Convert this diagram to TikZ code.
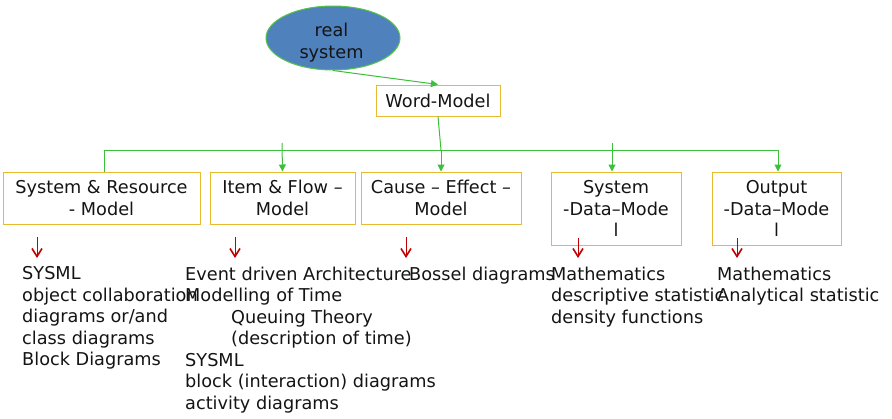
\documentclass[tikz,border=0pt]{standalone}
\usepackage{fontspec}
\setmainfont{DejaVu Sans}
\usetikzlibrary{arrows.meta,shapes.geometric}
\definecolor{goldb}{RGB}{232,186,48}
\definecolor{gline}{RGB}{60,192,60}
\definecolor{ellfill}{RGB}{79,129,189}
\definecolor{ellbord}{RGB}{84,196,72}
\definecolor{redar}{RGB}{192,0,0}
\definecolor{txt}{RGB}{20,20,20}
\tikzset{
  base font/.style={font=\fontsize{17.7}{21.5}\selectfont, text=txt},
  modelbox/.style={base font, draw=goldb, line width=1pt, align=center, inner sep=0pt},
  realell/.style={base font, ellipse, draw=ellbord, fill=ellfill, line width=1pt, align=center, inner sep=0pt, minimum width=134pt, minimum height=64pt},
  gconn/.style={draw=gline, line width=1pt},
  garrow/.style={gconn, -{Triangle[length=7pt,width=7pt]}},
  rarrow/.style={draw=redar, line width=0.8pt, -{Straight Barb[length=8pt,width=10pt,line width=1.6pt]}},
  listtext/.style={base font, anchor=north west, align=left, inner sep=0pt}
}
\begin{document}
\begin{tikzpicture}[x=1pt,y=-1pt]
\useasboundingbox (0,0) rectangle (892,418);
% nodes
\node[realell] (real) at (333,38) {\raisebox{-5pt}[\height][\depth]{\hspace*{-3pt}\begin{tabular}{@{}c@{}}real\\system\end{tabular}}};
\node[modelbox, minimum width=124pt, minimum height=31pt] (word) at (438,100.5) {Word-Model};
\node[modelbox, minimum width=197pt, minimum height=52pt] (sr) at (101.5,198) {System \& Resource\\- Model};
\node[modelbox, minimum width=145pt, minimum height=52pt] (if) at (282.5,198) {Item \& Flow –\\Model};
\node[modelbox, minimum width=160pt, minimum height=52pt] (ce) at (441,198) {Cause – Effect –\\Model};
\node[modelbox, minimum width=130pt, minimum height=73pt] (sd) at (616,208.5) {System\\-Data–Mode\\l};
\node[modelbox, minimum width=129pt, minimum height=73pt] (od) at (776.5,208.5) {Output\\-Data–Mode\\l};
% lists
\node[listtext] (t1) at (22,266.5) {SYSML\\object collaboration\\diagrams or/and\\class diagrams\\Block Diagrams};
\node[listtext] (t2) at (185,266.5) {Event driven Architecture\\Modelling of Time\\\hspace*{46pt}Queuing Theory\\\hspace*{46pt}(description of time)\\SYSML\\block (interaction) diagrams\\activity diagrams};
\node[listtext] (t3) at (409,266.5) {Bossel diagrams};
\node[listtext] (t4) at (551,266.5) {Mathematics\\descriptive statistic\\density functions};
\node[listtext] (t5) at (717,266.5) {Mathematics\\Analytical statistic};
% green connectors
\coordinate (j) at (441,150);
\draw[garrow] (real.south) -- (word.north);
\draw[gconn] (word.south) -- (j);
\draw[garrow] (j) -- (ce.north);
\draw[gconn] ([xshift=2.5pt]sr.north) |- (j);
\draw[garrow] (j) -| ([xshift=1.5pt]od.north);
\coordinate (ifs) at (282,143);
\draw[garrow] (ifs) -- (if.north);
\coordinate (sds) at (612,143);
\draw[garrow] (sds) -- ([xshift=-4pt]sd.north);
% red arrows
\coordinate (r1) at (37,237);
\coordinate (r2) at (235,237);
\coordinate (r3) at (406,237);
\coordinate (r4) at (578,238);
\coordinate (r5) at (737,238);
\draw[rarrow] (r1) -- (r1 |- 0,258);
\draw[rarrow] (r2) -- (r2 |- 0,258);
\draw[rarrow] (r3) -- (r3 |- 0,258);
\draw[rarrow] (r4) -- (r4 |- 0,258);
\draw[rarrow] (r5) -- (r5 |- 0,258);
\end{tikzpicture}
\end{document}
